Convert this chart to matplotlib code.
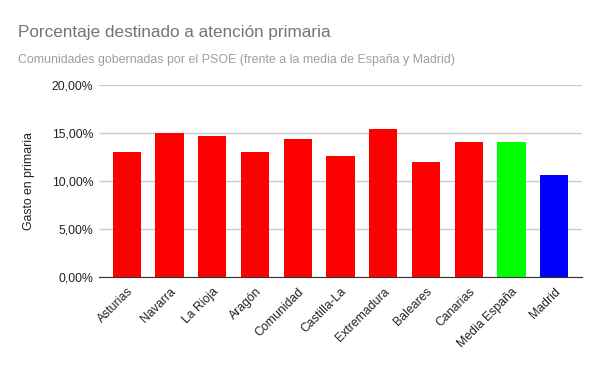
import matplotlib
matplotlib.use("Agg")
import matplotlib.pyplot as plt
from matplotlib.ticker import FuncFormatter

plt.rcParams["font.family"] = ["Liberation Sans", "DejaVu Sans"]

# Datos
comunidades = ["Asturias", "Navarra", "La Rioja", "Aragón", "Comunidad",
               "Castilla-La", "Extremadura", "Baleares", "Canarias",
               "Media España", "Madrid"]
gasto = [13.0, 15.0, 14.7, 13.0, 14.4, 12.6, 15.4, 12.0, 14.1, 14.1, 10.6]
colores = ["#ff0000"] * 9 + ["#00ff00", "#0000ff"]
yticks = [0, 5, 10, 15, 20]

fig = plt.figure(figsize=(6.0, 3.71), dpi=100)
ax = fig.add_axes([0.165, 0.2526, 0.805, 0.5184])

x = range(len(comunidades))
ax.bar(x, gasto, width=0.66, color=colores, zorder=3)

ax.set_xlim(-0.65, len(comunidades) - 0.35)
ax.set_ylim(0, 20)
ax.set_yticks(yticks)
ax.yaxis.set_major_formatter(FuncFormatter(lambda v, _: f"{v:.2f}%".replace(".", ",")))
ax.grid(axis="y", color="#cccccc", linewidth=1, zorder=0)
ax.set_axisbelow(True)

for s in ("top", "right", "left"):
    ax.spines[s].set_visible(False)
ax.spines["bottom"].set_color("#333333")
ax.spines["bottom"].set_zorder(4)
ax.tick_params(length=0, labelsize=8.8, colors="#222222", pad=4)
ax.tick_params(axis="x", pad=6)

ax.set_xticks(list(x))
ax.set_xticklabels(comunidades, rotation=45, ha="right", rotation_mode="anchor")
ax.set_ylabel("Gasto en primaria", fontsize=8.8, color="#222222", labelpad=12)

fig.text(0.03, 0.912, "Porcentaje destinado a atención primaria",
         fontsize=12.3, color="#757575", va="center")
fig.text(0.03, 0.838, "Comunidades gobernadas por el PSOE (frente a la media de España y Madrid)",
         fontsize=8.9, color="#9e9e9e", va="center")

fig.savefig("out.png", dpi=100)
